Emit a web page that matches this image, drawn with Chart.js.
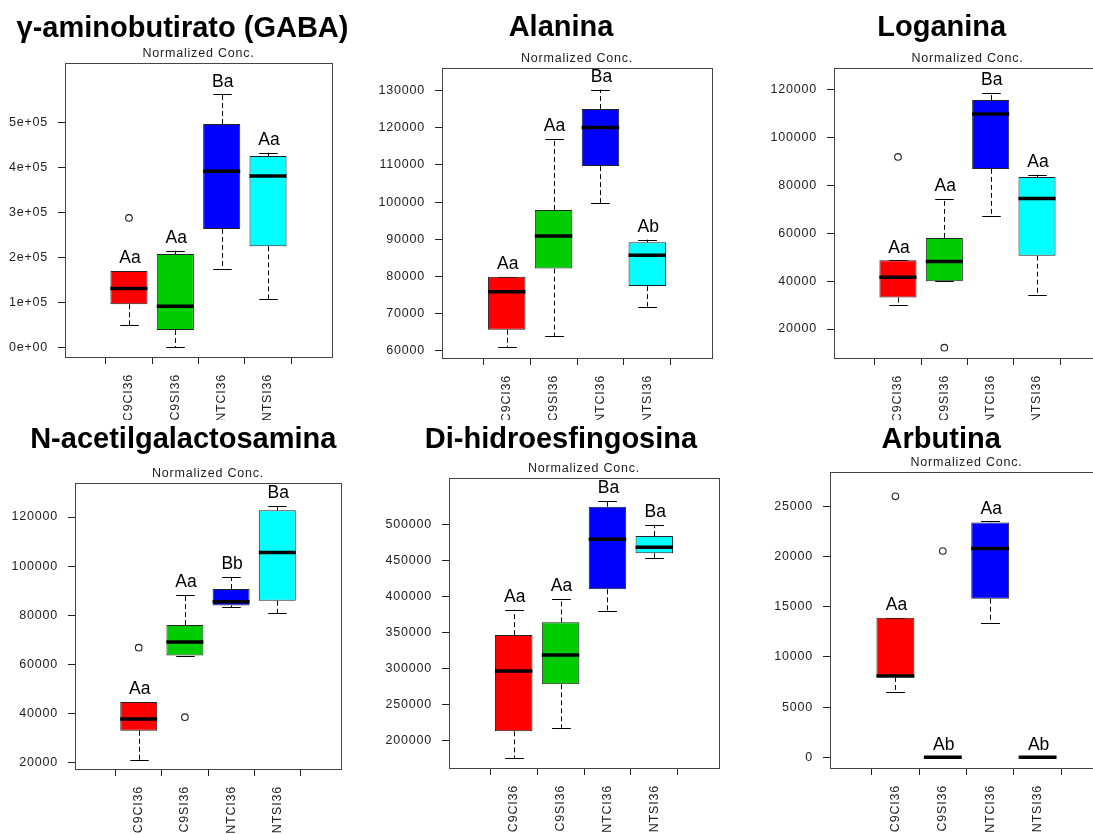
<!DOCTYPE html>
<html>
<head>
<meta charset="utf-8">
<script src="https://cdn.jsdelivr.net/npm/chart.js@4.4.1/dist/chart.umd.min.js"></script>
<style>
  html, body { margin: 0; padding: 0; background: #fff; }
  body { width: 1093px; height: 834px; overflow: hidden; position: relative;
         font-family: "Liberation Sans", Arial, sans-serif; }
  canvas { position: absolute; }
  .ttl { position: absolute; font-weight: bold; font-size: 29px; line-height: 29px;
         white-space: nowrap; transform: translateX(-50%); color: #000; }
</style>
</head>
<body>
<script>
// Groups shared by every panel
const categories = ['C9CI36', 'C9SI36', 'NTCI36', 'NTSI36'];
const boxColors = ['#ff0000', '#00cd00', '#0000ff', '#00ffff'];

// Five-number summaries per group: [lower whisker, Q1, median, Q3, upper whisker]
const gabaStats = [[48900, 95600, 130400, 169600, 169600], [0, 38500, 91100, 207400, 214800],
                   [174800, 263000, 391100, 496300, 562200], [106700, 224400, 380700, 425200, 432600]];
const gabaOutliers = [[1, 287400]];
const gabaLetters = ['Aa', 'Aa', 'Ba', 'Aa'];
const gabaTicks = [0, 100000, 200000, 300000, 400000, 500000];
const gabaTickLabels = ['0e+00', '1e+05', '2e+05', '3e+05', '4e+05', '5e+05'];

const alaninaStats = [[60900, 65650, 75900, 79900, 79900], [64000, 82100, 90900, 97900, 117100],
                      [99700, 109700, 120100, 125100, 130300], [71900, 77400, 85700, 89200, 89900]];
const alaninaOutliers = [];
const alaninaLetters = ['Aa', 'Aa', 'Ba', 'Ab'];
const alaninaTicks = [60000, 70000, 80000, 90000, 100000, 110000, 120000, 130000];
const alaninaTickLabels = ['60000', '70000', '80000', '90000', '100000', '110000', '120000', '130000'];

const loganinaStats = [[29900, 33100, 41600, 48700, 48700], [39900, 39900, 48200, 58000, 74400],
                       [67000, 86800, 109700, 115500, 118600], [34200, 50600, 74500, 83400, 84400]];
const loganinaOutliers = [[1, 91800], [2, 12200]];
const loganinaLetters = ['Aa', 'Aa', 'Ba', 'Aa'];
const loganinaTicks = [20000, 40000, 60000, 80000, 100000, 120000];
const loganinaTickLabels = ['20000', '40000', '60000', '80000', '100000', '120000'];

const nacetilStats = [[21200, 33000, 37800, 44700, 44700], [63600, 63600, 69100, 76000, 88300],
                      [83200, 84000, 85500, 90700, 95600], [80900, 85900, 105500, 122700, 124500]];
const nacetilOutliers = [[1, 66800], [2, 38500]];
const nacetilLetters = ['Aa', 'Aa', 'Bb', 'Ba'];
const nacetilTicks = [20000, 40000, 60000, 80000, 100000, 120000];
const nacetilTickLabels = ['20000', '40000', '60000', '80000', '100000', '120000'];

const dihidroStats = [[175000, 212500, 296400, 346500, 381800], [217600, 277900, 318700, 364100, 397100],
                      [380400, 410000, 479600, 525000, 533400], [453200, 460100, 468500, 484200, 500000]];
const dihidroOutliers = [];
const dihidroLetters = ['Aa', 'Aa', 'Ba', 'Ba'];
const dihidroTicks = [200000, 250000, 300000, 350000, 400000, 450000, 500000];
const dihidroTickLabels = ['200000', '250000', '300000', '350000', '400000', '450000', '500000'];

const arbutinaStats = [[6500, 8000, 8100, 13900, 13900], [0, 0, 0, 0, 0],
                       [13400, 15800, 20800, 23400, 23500], [0, 0, 0, 0, 0]];
const arbutinaOutliers = [[1, 26000], [2, 20550]];
const arbutinaLetters = ['Aa', 'Ab', 'Aa', 'Ab'];
const arbutinaTicks = [0, 5000, 10000, 15000, 20000, 25000];
const arbutinaTickLabels = ['0', '5000', '10000', '15000', '20000', '25000'];

// Panel grid: canvas placement, plot box and value range of each panel
const panels = [
  { title: 'γ-aminobutirato (GABA)', titleX: 182.5, titleBase: 37,
    stats: gabaStats, outliers: gabaOutliers, letters: gabaLetters, ticks: gabaTicks, tickLabels: gabaTickLabels,
    canvas: [0, 0, 365, 420], plot: [65, 63, 332, 357], yMin: -21555, yMax: 631800 },
  { title: 'Alanina', titleX: 561, titleBase: 36,
    stats: alaninaStats, outliers: alaninaOutliers, letters: alaninaLetters, ticks: alaninaTicks, tickLabels: alaninaTickLabels,
    canvas: [365, 0, 365, 420], plot: [442, 68, 712, 358], yMin: 58035, yMax: 136112 },
  { title: 'Loganina', titleX: 941.7, titleBase: 36,
    stats: loganinaStats, outliers: loganinaOutliers, letters: loganinaLetters, ticks: loganinaTicks, tickLabels: loganinaTickLabels,
    canvas: [730, 0, 380, 420], plot: [834, 68, 1101, 358], yMin: 7900, yMax: 128900 },
  { title: 'N-acetilgalactosamina', titleX: 183.3, titleBase: 448,
    stats: nacetilStats, outliers: nacetilOutliers, letters: nacetilLetters, ticks: nacetilTicks, tickLabels: nacetilTickLabels,
    canvas: [0, 420, 365, 414], plot: [75, 483, 341, 769], yMin: 17423, yMax: 133840 },
  { title: 'Di-hidroesfingosina', titleX: 561, titleBase: 448,
    stats: dihidroStats, outliers: dihidroOutliers, letters: dihidroLetters, ticks: dihidroTicks, tickLabels: dihidroTickLabels,
    canvas: [365, 420, 365, 414], plot: [449, 478, 719, 768], yMin: 161510, yMax: 564920 },
  { title: 'Arbutina', titleX: 941.2, titleBase: 448,
    stats: arbutinaStats, outliers: arbutinaOutliers, letters: arbutinaLetters, ticks: arbutinaTicks, tickLabels: arbutinaTickLabels,
    canvas: [730, 420, 380, 414], plot: [830, 472, 1103, 768], yMin: -1062, yMax: 28420 }
];

const AXIS_FONT = { family: '"Liberation Sans", Arial, sans-serif', size: 12.5 };

// Whiskers, caps, medians, group letters, frame and the "Normalized Conc." caption
const boxPlotExtras = {
  id: 'boxPlotExtras',
  beforeDraw(chart) { chart.ctx.letterSpacing = '0.8px'; },
  afterDraw(chart) { chart.ctx.letterSpacing = '0px'; },
  beforeDatasetsDraw(chart, args, opts) {
    const { ctx, scales: { x, y } } = chart;
    const seg = (x1, y1, x2, y2) => { ctx.beginPath(); ctx.moveTo(x1, y1); ctx.lineTo(x2, y2); ctx.stroke(); };
    ctx.save();
    ctx.strokeStyle = '#000';
    ctx.lineWidth = 1;
    opts.stats.forEach((s, i) => {
      const cx = Math.round(x.getPixelForValue(i + 1)) + 0.5;
      const cap = Math.abs(x.getPixelForValue(i + 1.2) - x.getPixelForValue(i + 1));
      const [lo, q1, , q3, hi] = s;
      ctx.setLineDash([5, 3]);
      seg(cx, y.getPixelForValue(q3), cx, y.getPixelForValue(hi));
      seg(cx, y.getPixelForValue(q1), cx, y.getPixelForValue(lo));
      ctx.setLineDash([]);
      const yh = Math.round(y.getPixelForValue(hi)) + 0.5;
      const yl = Math.round(y.getPixelForValue(lo)) + 0.5;
      seg(cx - cap, yh, cx + cap, yh);
      seg(cx - cap, yl, cx + cap, yl);
    });
    ctx.restore();
  },
  afterDatasetsDraw(chart, args, opts) {
    const { ctx, chartArea: a, scales: { x, y } } = chart;
    ctx.save();
    ctx.letterSpacing = '0px';
    ctx.strokeStyle = '#000';
    ctx.lineWidth = 3.5;
    ctx.lineCap = 'butt';
    opts.stats.forEach((s, i) => {
      const cx = x.getPixelForValue(i + 1);
      const half = Math.abs(x.getPixelForValue(i + 1.4) - cx);
      const ym = y.getPixelForValue(s[2]);
      ctx.beginPath(); ctx.moveTo(cx - half, ym); ctx.lineTo(cx + half, ym); ctx.stroke();
    });
    ctx.fillStyle = '#000';
    ctx.font = '17.5px "Liberation Sans", Arial, sans-serif';
    ctx.textAlign = 'center';
    ctx.textBaseline = 'alphabetic';
    opts.letters.forEach((t, i) => {
      const top = Math.min(y.getPixelForValue(opts.stats[i][4]), y.getPixelForValue(opts.stats[i][3]));
      ctx.fillText(t, x.getPixelForValue(i + 1) + 1, top - 7.5);
    });
    ctx.strokeStyle = '#444';
    ctx.lineWidth = 1;
    ctx.strokeRect(a.left + 0.5, a.top + 0.5, a.right - a.left, a.bottom - a.top);
    ctx.letterSpacing = '0.8px';
    ctx.fillStyle = '#222';
    ctx.font = '12.5px "Liberation Sans", Arial, sans-serif';
    ctx.textBaseline = 'middle';
    ctx.fillText('Normalized Conc.', (a.left + a.right) / 2, a.top - 9);
    ctx.restore();
  }
};

panels.forEach((p) => {
  const [cl, ct, cw, ch] = p.canvas;
  const [pl, pt, pr, pb] = p.plot;
  const yAxisW = pl - cl;          // y axis box spans from the canvas edge to the plot
  const xAxisH = ct + ch - pb;     // x axis box spans from the plot to the canvas bottom

  const cv = document.createElement('canvas');
  cv.width = cw; cv.height = ch;
  cv.style.left = cl + 'px'; cv.style.top = ct + 'px';
  cv.style.width = cw + 'px'; cv.style.height = ch + 'px';
  document.body.appendChild(cv);

  const ttl = document.createElement('div');
  ttl.className = 'ttl';
  ttl.textContent = p.title;
  ttl.style.left = p.titleX + 'px';
  ttl.style.top = (p.titleBase - 24.5) + 'px';
  document.body.appendChild(ttl);

  new Chart(cv, {
    type: 'bar',
    data: {
      datasets: [
        {
          type: 'bar',
          data: p.stats.map((s, i) => ({ x: i + 1, y: [s[1], s[3]] })),
          backgroundColor: boxColors,
          borderColor: '#222',
          borderWidth: 1,
          borderSkipped: false,
          barPercentage: 0.8,
          categoryPercentage: 1
        },
        {
          type: 'scatter',
          data: p.outliers.map(([g, v]) => ({ x: g, y: v })),
          pointStyle: 'circle',
          pointRadius: 3.3,
          backgroundColor: 'rgba(0,0,0,0)',
          borderColor: '#222',
          borderWidth: 1.1
        }
      ]
    },
    options: {
      responsive: false,
      animation: false,
      events: [],
      layout: {
        padding: { left: 0, top: pt - ct, right: cl + cw - pr, bottom: 0 }
      },
      plugins: {
        legend: { display: false },
        tooltip: { enabled: false },
        boxPlotExtras: { stats: p.stats, letters: p.letters }
      },
      scales: {
        x: {
          type: 'linear',
          min: 0.34,
          max: 4.66,
          afterFit: (s) => { s.height = xAxisH; },
          afterBuildTicks: (s) => { s.ticks = categories.map((c, i) => ({ value: i + 1 })); },
          ticks: {
            callback: (v) => categories[v - 1],
            minRotation: 90, maxRotation: 90,
            autoSkip: false,
            padding: 10,
            color: '#222',
            font: AXIS_FONT
          },
          grid: { drawOnChartArea: false, drawTicks: true, tickLength: 7, color: '#222' },
          border: { display: false }
        },
        y: {
          type: 'linear',
          min: p.yMin,
          max: p.yMax,
          afterFit: (s) => { s.width = yAxisW; },
          afterBuildTicks: (s) => { s.ticks = p.ticks.map((v) => ({ value: v })); },
          ticks: {
            callback: (v, i) => p.tickLabels[i],
            padding: 10,
            color: '#222',
            font: AXIS_FONT
          },
          grid: { drawOnChartArea: false, drawTicks: true, tickLength: 7, color: '#222' },
          border: { display: false }
        }
      }
    },
    plugins: [boxPlotExtras]
  });
});
</script>
</body>
</html>
